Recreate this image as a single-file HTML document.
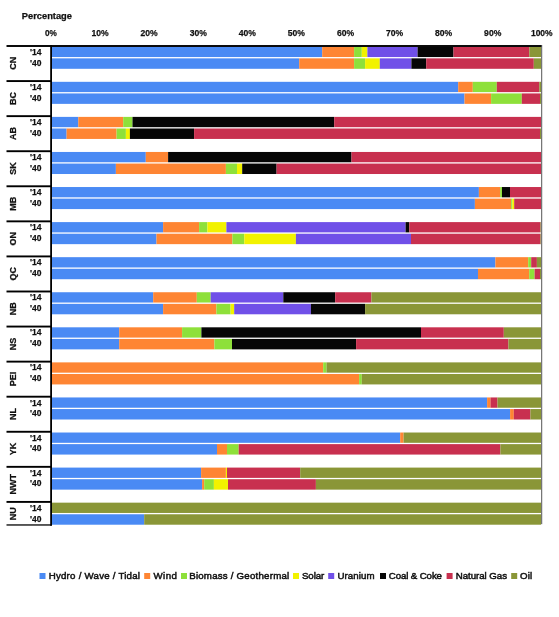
<!DOCTYPE html>
<html><head><meta charset="utf-8"><style>
html,body{margin:0;padding:0;background:#fff;}
body{width:559px;height:617px;overflow:hidden;}
svg{display:block;will-change:transform;}
text{font-family:"Liberation Sans", sans-serif;font-weight:bold;fill:#111;stroke:#111;stroke-width:0.25px;}
</style></head><body>
<svg width="559" height="617" viewBox="0 0 559 617">
<rect x="52.00" y="46.75" width="270.20" height="10.30" fill="#4a8af4"/>
<rect x="322.20" y="46.75" width="31.90" height="10.30" fill="#fe8533"/>
<rect x="354.10" y="46.75" width="7.70" height="10.30" fill="#8ee03a"/>
<rect x="361.80" y="46.75" width="5.60" height="10.30" fill="#f2f200"/>
<rect x="367.40" y="46.75" width="50.20" height="10.30" fill="#7050e8"/>
<rect x="417.60" y="46.75" width="35.90" height="10.30" fill="#060606"/>
<rect x="453.50" y="46.75" width="75.80" height="10.30" fill="#c8304f"/>
<rect x="529.30" y="46.75" width="11.70" height="10.30" fill="#8a9637"/>
<rect x="52.00" y="58.35" width="247.20" height="10.45" fill="#4a8af4"/>
<rect x="299.20" y="58.35" width="54.90" height="10.45" fill="#fe8533"/>
<rect x="354.10" y="58.35" width="11.00" height="10.45" fill="#8ee03a"/>
<rect x="365.10" y="58.35" width="14.70" height="10.45" fill="#f2f200"/>
<rect x="379.80" y="58.35" width="31.60" height="10.45" fill="#7050e8"/>
<rect x="411.40" y="58.35" width="14.80" height="10.45" fill="#060606"/>
<rect x="426.20" y="58.35" width="107.60" height="10.45" fill="#c8304f"/>
<rect x="533.80" y="58.35" width="7.20" height="10.45" fill="#8a9637"/>
<rect x="52.00" y="81.82" width="406.20" height="10.30" fill="#4a8af4"/>
<rect x="458.20" y="81.82" width="14.60" height="10.30" fill="#fe8533"/>
<rect x="472.80" y="81.82" width="24.00" height="10.30" fill="#8ee03a"/>
<rect x="496.80" y="81.82" width="42.50" height="10.30" fill="#c8304f"/>
<rect x="539.30" y="81.82" width="1.70" height="10.30" fill="#8a9637"/>
<rect x="52.00" y="93.42" width="412.50" height="10.45" fill="#4a8af4"/>
<rect x="464.50" y="93.42" width="26.60" height="10.45" fill="#fe8533"/>
<rect x="491.10" y="93.42" width="30.70" height="10.45" fill="#8ee03a"/>
<rect x="521.80" y="93.42" width="18.20" height="10.45" fill="#c8304f"/>
<rect x="540.00" y="93.42" width="1.00" height="10.45" fill="#8a9637"/>
<rect x="52.00" y="116.89" width="26.30" height="10.30" fill="#4a8af4"/>
<rect x="78.30" y="116.89" width="44.90" height="10.30" fill="#fe8533"/>
<rect x="123.20" y="116.89" width="9.30" height="10.30" fill="#8ee03a"/>
<rect x="132.50" y="116.89" width="201.70" height="10.30" fill="#060606"/>
<rect x="334.20" y="116.89" width="206.80" height="10.30" fill="#c8304f"/>
<rect x="52.00" y="128.49" width="14.60" height="10.45" fill="#4a8af4"/>
<rect x="66.60" y="128.49" width="50.00" height="10.45" fill="#fe8533"/>
<rect x="116.60" y="128.49" width="9.30" height="10.45" fill="#8ee03a"/>
<rect x="125.90" y="128.49" width="4.00" height="10.45" fill="#f2f200"/>
<rect x="129.90" y="128.49" width="64.20" height="10.45" fill="#060606"/>
<rect x="194.10" y="128.49" width="345.90" height="10.45" fill="#c8304f"/>
<rect x="540.00" y="128.49" width="1.00" height="10.45" fill="#8a9637"/>
<rect x="52.00" y="151.96" width="93.80" height="10.30" fill="#4a8af4"/>
<rect x="145.80" y="151.96" width="22.30" height="10.30" fill="#fe8533"/>
<rect x="168.10" y="151.96" width="183.40" height="10.30" fill="#060606"/>
<rect x="351.50" y="151.96" width="189.50" height="10.30" fill="#c8304f"/>
<rect x="52.00" y="163.56" width="63.90" height="10.45" fill="#4a8af4"/>
<rect x="115.90" y="163.56" width="110.00" height="10.45" fill="#fe8533"/>
<rect x="225.90" y="163.56" width="11.10" height="10.45" fill="#8ee03a"/>
<rect x="237.00" y="163.56" width="5.20" height="10.45" fill="#f2f200"/>
<rect x="242.20" y="163.56" width="34.40" height="10.45" fill="#060606"/>
<rect x="276.60" y="163.56" width="264.40" height="10.45" fill="#c8304f"/>
<rect x="52.00" y="187.03" width="426.90" height="10.30" fill="#4a8af4"/>
<rect x="478.90" y="187.03" width="21.30" height="10.30" fill="#fe8533"/>
<rect x="500.20" y="187.03" width="1.80" height="10.30" fill="#8ee03a"/>
<rect x="502.00" y="187.03" width="8.00" height="10.30" fill="#060606"/>
<rect x="510.00" y="187.03" width="31.00" height="10.30" fill="#c8304f"/>
<rect x="52.00" y="198.63" width="422.90" height="10.45" fill="#4a8af4"/>
<rect x="474.90" y="198.63" width="36.30" height="10.45" fill="#fe8533"/>
<rect x="511.20" y="198.63" width="1.10" height="10.45" fill="#8ee03a"/>
<rect x="512.30" y="198.63" width="1.90" height="10.45" fill="#f2f200"/>
<rect x="514.20" y="198.63" width="26.80" height="10.45" fill="#c8304f"/>
<rect x="52.00" y="222.10" width="111.10" height="10.30" fill="#4a8af4"/>
<rect x="163.10" y="222.10" width="36.00" height="10.30" fill="#fe8533"/>
<rect x="199.10" y="222.10" width="8.30" height="10.30" fill="#8ee03a"/>
<rect x="207.40" y="222.10" width="19.00" height="10.30" fill="#f2f200"/>
<rect x="226.40" y="222.10" width="179.20" height="10.30" fill="#7050e8"/>
<rect x="405.60" y="222.10" width="3.70" height="10.30" fill="#060606"/>
<rect x="409.30" y="222.10" width="131.20" height="10.30" fill="#c8304f"/>
<rect x="540.50" y="222.10" width="0.50" height="10.30" fill="#8a9637"/>
<rect x="52.00" y="233.70" width="104.50" height="10.45" fill="#4a8af4"/>
<rect x="156.50" y="233.70" width="75.90" height="10.45" fill="#fe8533"/>
<rect x="232.40" y="233.70" width="11.90" height="10.45" fill="#8ee03a"/>
<rect x="244.30" y="233.70" width="51.60" height="10.45" fill="#f2f200"/>
<rect x="295.90" y="233.70" width="115.10" height="10.45" fill="#7050e8"/>
<rect x="411.00" y="233.70" width="129.50" height="10.45" fill="#c8304f"/>
<rect x="540.50" y="233.70" width="0.50" height="10.45" fill="#8a9637"/>
<rect x="52.00" y="257.17" width="443.40" height="10.30" fill="#4a8af4"/>
<rect x="495.40" y="257.17" width="32.80" height="10.30" fill="#fe8533"/>
<rect x="528.20" y="257.17" width="3.00" height="10.30" fill="#8ee03a"/>
<rect x="531.20" y="257.17" width="5.70" height="10.30" fill="#c8304f"/>
<rect x="536.90" y="257.17" width="4.10" height="10.30" fill="#8a9637"/>
<rect x="52.00" y="268.77" width="426.00" height="10.45" fill="#4a8af4"/>
<rect x="478.00" y="268.77" width="51.20" height="10.45" fill="#fe8533"/>
<rect x="529.20" y="268.77" width="5.40" height="10.45" fill="#8ee03a"/>
<rect x="534.60" y="268.77" width="5.40" height="10.45" fill="#c8304f"/>
<rect x="540.00" y="268.77" width="1.00" height="10.45" fill="#8a9637"/>
<rect x="52.00" y="292.24" width="101.20" height="10.30" fill="#4a8af4"/>
<rect x="153.20" y="292.24" width="43.60" height="10.30" fill="#fe8533"/>
<rect x="196.80" y="292.24" width="13.90" height="10.30" fill="#8ee03a"/>
<rect x="210.70" y="292.24" width="72.60" height="10.30" fill="#7050e8"/>
<rect x="283.30" y="292.24" width="51.90" height="10.30" fill="#060606"/>
<rect x="335.20" y="292.24" width="36.20" height="10.30" fill="#c8304f"/>
<rect x="371.40" y="292.24" width="169.60" height="10.30" fill="#8a9637"/>
<rect x="52.00" y="303.84" width="111.10" height="10.45" fill="#4a8af4"/>
<rect x="163.10" y="303.84" width="53.30" height="10.45" fill="#fe8533"/>
<rect x="216.40" y="303.84" width="14.20" height="10.45" fill="#8ee03a"/>
<rect x="230.60" y="303.84" width="3.60" height="10.45" fill="#f2f200"/>
<rect x="234.20" y="303.84" width="76.70" height="10.45" fill="#7050e8"/>
<rect x="310.90" y="303.84" width="54.20" height="10.45" fill="#060606"/>
<rect x="365.10" y="303.84" width="175.90" height="10.45" fill="#8a9637"/>
<rect x="52.00" y="327.31" width="67.20" height="10.30" fill="#4a8af4"/>
<rect x="119.20" y="327.31" width="62.90" height="10.30" fill="#fe8533"/>
<rect x="182.10" y="327.31" width="19.30" height="10.30" fill="#8ee03a"/>
<rect x="201.40" y="327.31" width="219.60" height="10.30" fill="#060606"/>
<rect x="421.00" y="327.31" width="82.80" height="10.30" fill="#c8304f"/>
<rect x="503.80" y="327.31" width="37.20" height="10.30" fill="#8a9637"/>
<rect x="52.00" y="338.91" width="67.20" height="10.45" fill="#4a8af4"/>
<rect x="119.20" y="338.91" width="95.20" height="10.45" fill="#fe8533"/>
<rect x="214.40" y="338.91" width="17.60" height="10.45" fill="#8ee03a"/>
<rect x="232.00" y="338.91" width="124.10" height="10.45" fill="#060606"/>
<rect x="356.10" y="338.91" width="152.30" height="10.45" fill="#c8304f"/>
<rect x="508.40" y="338.91" width="32.60" height="10.45" fill="#8a9637"/>
<rect x="52.00" y="362.38" width="271.20" height="10.30" fill="#fe8533"/>
<rect x="323.20" y="362.38" width="3.30" height="10.30" fill="#8ee03a"/>
<rect x="326.50" y="362.38" width="214.50" height="10.30" fill="#8a9637"/>
<rect x="52.00" y="373.98" width="307.10" height="10.45" fill="#fe8533"/>
<rect x="359.10" y="373.98" width="2.70" height="10.45" fill="#8ee03a"/>
<rect x="361.80" y="373.98" width="179.20" height="10.45" fill="#8a9637"/>
<rect x="52.00" y="397.45" width="435.10" height="10.30" fill="#4a8af4"/>
<rect x="487.10" y="397.45" width="3.40" height="10.30" fill="#fe8533"/>
<rect x="490.50" y="397.45" width="7.00" height="10.30" fill="#c8304f"/>
<rect x="497.50" y="397.45" width="43.50" height="10.30" fill="#8a9637"/>
<rect x="52.00" y="409.05" width="458.10" height="10.45" fill="#4a8af4"/>
<rect x="510.10" y="409.05" width="3.70" height="10.45" fill="#fe8533"/>
<rect x="513.80" y="409.05" width="16.60" height="10.45" fill="#c8304f"/>
<rect x="530.40" y="409.05" width="10.60" height="10.45" fill="#8a9637"/>
<rect x="52.00" y="432.52" width="348.20" height="10.30" fill="#4a8af4"/>
<rect x="400.20" y="432.52" width="3.40" height="10.30" fill="#fe8533"/>
<rect x="403.60" y="432.52" width="137.40" height="10.30" fill="#8a9637"/>
<rect x="52.00" y="444.12" width="165.00" height="10.45" fill="#4a8af4"/>
<rect x="217.00" y="444.12" width="10.00" height="10.45" fill="#fe8533"/>
<rect x="227.00" y="444.12" width="11.70" height="10.45" fill="#8ee03a"/>
<rect x="238.70" y="444.12" width="261.70" height="10.45" fill="#c8304f"/>
<rect x="500.40" y="444.12" width="40.60" height="10.45" fill="#8a9637"/>
<rect x="52.00" y="467.59" width="149.10" height="10.30" fill="#4a8af4"/>
<rect x="201.10" y="467.59" width="24.80" height="10.30" fill="#fe8533"/>
<rect x="225.90" y="467.59" width="1.10" height="10.30" fill="#f2f200"/>
<rect x="227.00" y="467.59" width="73.20" height="10.30" fill="#c8304f"/>
<rect x="300.20" y="467.59" width="240.80" height="10.30" fill="#8a9637"/>
<rect x="52.00" y="479.19" width="150.10" height="10.45" fill="#4a8af4"/>
<rect x="202.10" y="479.19" width="2.10" height="10.45" fill="#fe8533"/>
<rect x="204.20" y="479.19" width="9.70" height="10.45" fill="#8ee03a"/>
<rect x="213.90" y="479.19" width="14.10" height="10.45" fill="#f2f200"/>
<rect x="228.00" y="479.19" width="87.90" height="10.45" fill="#c8304f"/>
<rect x="315.90" y="479.19" width="225.10" height="10.45" fill="#8a9637"/>
<rect x="52.00" y="502.66" width="489.00" height="10.30" fill="#8a9637"/>
<rect x="52.00" y="514.26" width="92.20" height="10.45" fill="#4a8af4"/>
<rect x="144.20" y="514.26" width="396.80" height="10.45" fill="#8a9637"/>
<rect x="6.50" y="45.05" width="535.50" height="1.90" fill="#000"/>
<rect x="6.50" y="80.12" width="45.00" height="1.90" fill="#000"/>
<rect x="6.50" y="115.19" width="45.00" height="1.90" fill="#000"/>
<rect x="6.50" y="150.26" width="45.00" height="1.90" fill="#000"/>
<rect x="6.50" y="185.33" width="45.00" height="1.90" fill="#000"/>
<rect x="6.50" y="220.40" width="45.00" height="1.90" fill="#000"/>
<rect x="6.50" y="255.47" width="45.00" height="1.90" fill="#000"/>
<rect x="6.50" y="290.54" width="45.00" height="1.90" fill="#000"/>
<rect x="6.50" y="325.61" width="45.00" height="1.90" fill="#000"/>
<rect x="6.50" y="360.68" width="45.00" height="1.90" fill="#000"/>
<rect x="6.50" y="395.75" width="45.00" height="1.90" fill="#000"/>
<rect x="6.50" y="430.82" width="45.00" height="1.90" fill="#000"/>
<rect x="6.50" y="465.89" width="45.00" height="1.90" fill="#000"/>
<rect x="6.50" y="500.96" width="45.00" height="1.90" fill="#000"/>
<rect x="6.50" y="524.16" width="45.00" height="1.60" fill="#333"/>
<rect x="50.20" y="45.00" width="1.80" height="480.76" fill="#000"/>
<rect x="541.20" y="45.00" width="1.00" height="479.16" fill="#555"/>
<text x="51.00" y="35.8" font-size="9.6" text-anchor="middle" textLength="11.9" lengthAdjust="spacingAndGlyphs">0%</text>
<text x="100.08" y="35.8" font-size="9.6" text-anchor="middle" textLength="17.2" lengthAdjust="spacingAndGlyphs">10%</text>
<text x="149.16" y="35.8" font-size="9.6" text-anchor="middle" textLength="17.2" lengthAdjust="spacingAndGlyphs">20%</text>
<text x="198.24" y="35.8" font-size="9.6" text-anchor="middle" textLength="17.2" lengthAdjust="spacingAndGlyphs">30%</text>
<text x="247.32" y="35.8" font-size="9.6" text-anchor="middle" textLength="17.2" lengthAdjust="spacingAndGlyphs">40%</text>
<text x="296.40" y="35.8" font-size="9.6" text-anchor="middle" textLength="17.2" lengthAdjust="spacingAndGlyphs">50%</text>
<text x="345.48" y="35.8" font-size="9.6" text-anchor="middle" textLength="17.2" lengthAdjust="spacingAndGlyphs">60%</text>
<text x="394.56" y="35.8" font-size="9.6" text-anchor="middle" textLength="17.2" lengthAdjust="spacingAndGlyphs">70%</text>
<text x="443.64" y="35.8" font-size="9.6" text-anchor="middle" textLength="17.2" lengthAdjust="spacingAndGlyphs">80%</text>
<text x="492.72" y="35.8" font-size="9.6" text-anchor="middle" textLength="17.2" lengthAdjust="spacingAndGlyphs">90%</text>
<text x="541.80" y="35.8" font-size="9.6" text-anchor="middle" textLength="21.7" lengthAdjust="spacingAndGlyphs">100%</text>
<text x="21.8" y="19.3" font-size="9.3" text-anchor="start">Percentage</text>
<text x="30" y="54.849999999999994" font-size="9.4" text-anchor="start" textLength="11.5" lengthAdjust="spacingAndGlyphs">'14</text>
<text x="30" y="65.65" font-size="9.4" text-anchor="start" textLength="11.5" lengthAdjust="spacingAndGlyphs">'40</text>
<text x="0" y="0" font-size="9" text-anchor="middle" transform="translate(15.6 63.35) rotate(-90)">CN</text>
<text x="30" y="89.92" font-size="9.4" text-anchor="start" textLength="11.5" lengthAdjust="spacingAndGlyphs">'14</text>
<text x="30" y="100.72" font-size="9.4" text-anchor="start" textLength="11.5" lengthAdjust="spacingAndGlyphs">'40</text>
<text x="0" y="0" font-size="9" text-anchor="middle" transform="translate(15.6 98.42) rotate(-90)">BC</text>
<text x="30" y="124.99" font-size="9.4" text-anchor="start" textLength="11.5" lengthAdjust="spacingAndGlyphs">'14</text>
<text x="30" y="135.79" font-size="9.4" text-anchor="start" textLength="11.5" lengthAdjust="spacingAndGlyphs">'40</text>
<text x="0" y="0" font-size="9" text-anchor="middle" transform="translate(15.6 133.49) rotate(-90)">AB</text>
<text x="30" y="160.06" font-size="9.4" text-anchor="start" textLength="11.5" lengthAdjust="spacingAndGlyphs">'14</text>
<text x="30" y="170.85999999999999" font-size="9.4" text-anchor="start" textLength="11.5" lengthAdjust="spacingAndGlyphs">'40</text>
<text x="0" y="0" font-size="9" text-anchor="middle" transform="translate(15.6 168.56) rotate(-90)">SK</text>
<text x="30" y="195.13" font-size="9.4" text-anchor="start" textLength="11.5" lengthAdjust="spacingAndGlyphs">'14</text>
<text x="30" y="205.92999999999998" font-size="9.4" text-anchor="start" textLength="11.5" lengthAdjust="spacingAndGlyphs">'40</text>
<text x="0" y="0" font-size="9" text-anchor="middle" transform="translate(15.6 203.63) rotate(-90)">MB</text>
<text x="30" y="230.2" font-size="9.4" text-anchor="start" textLength="11.5" lengthAdjust="spacingAndGlyphs">'14</text>
<text x="30" y="240.99999999999997" font-size="9.4" text-anchor="start" textLength="11.5" lengthAdjust="spacingAndGlyphs">'40</text>
<text x="0" y="0" font-size="9" text-anchor="middle" transform="translate(15.6 238.70) rotate(-90)">ON</text>
<text x="30" y="265.27000000000004" font-size="9.4" text-anchor="start" textLength="11.5" lengthAdjust="spacingAndGlyphs">'14</text>
<text x="30" y="276.07000000000005" font-size="9.4" text-anchor="start" textLength="11.5" lengthAdjust="spacingAndGlyphs">'40</text>
<text x="0" y="0" font-size="9" text-anchor="middle" transform="translate(15.6 273.77) rotate(-90)">QC</text>
<text x="30" y="300.34000000000003" font-size="9.4" text-anchor="start" textLength="11.5" lengthAdjust="spacingAndGlyphs">'14</text>
<text x="30" y="311.14000000000004" font-size="9.4" text-anchor="start" textLength="11.5" lengthAdjust="spacingAndGlyphs">'40</text>
<text x="0" y="0" font-size="9" text-anchor="middle" transform="translate(15.6 308.84) rotate(-90)">NB</text>
<text x="30" y="335.41" font-size="9.4" text-anchor="start" textLength="11.5" lengthAdjust="spacingAndGlyphs">'14</text>
<text x="30" y="346.21000000000004" font-size="9.4" text-anchor="start" textLength="11.5" lengthAdjust="spacingAndGlyphs">'40</text>
<text x="0" y="0" font-size="9" text-anchor="middle" transform="translate(15.6 343.91) rotate(-90)">NS</text>
<text x="30" y="370.48" font-size="9.4" text-anchor="start" textLength="11.5" lengthAdjust="spacingAndGlyphs">'14</text>
<text x="30" y="381.28000000000003" font-size="9.4" text-anchor="start" textLength="11.5" lengthAdjust="spacingAndGlyphs">'40</text>
<text x="0" y="0" font-size="9" text-anchor="middle" transform="translate(15.6 378.98) rotate(-90)">PEI</text>
<text x="30" y="405.55" font-size="9.4" text-anchor="start" textLength="11.5" lengthAdjust="spacingAndGlyphs">'14</text>
<text x="30" y="416.35" font-size="9.4" text-anchor="start" textLength="11.5" lengthAdjust="spacingAndGlyphs">'40</text>
<text x="0" y="0" font-size="9" text-anchor="middle" transform="translate(15.6 414.05) rotate(-90)">NL</text>
<text x="30" y="440.62" font-size="9.4" text-anchor="start" textLength="11.5" lengthAdjust="spacingAndGlyphs">'14</text>
<text x="30" y="451.42" font-size="9.4" text-anchor="start" textLength="11.5" lengthAdjust="spacingAndGlyphs">'40</text>
<text x="0" y="0" font-size="9" text-anchor="middle" transform="translate(15.6 449.12) rotate(-90)">YK</text>
<text x="30" y="475.69000000000005" font-size="9.4" text-anchor="start" textLength="11.5" lengthAdjust="spacingAndGlyphs">'14</text>
<text x="30" y="486.49000000000007" font-size="9.4" text-anchor="start" textLength="11.5" lengthAdjust="spacingAndGlyphs">'40</text>
<text x="0" y="0" font-size="9" text-anchor="middle" transform="translate(15.6 484.19) rotate(-90)">NWT</text>
<text x="30" y="510.76000000000005" font-size="9.4" text-anchor="start" textLength="11.5" lengthAdjust="spacingAndGlyphs">'14</text>
<text x="30" y="521.5600000000001" font-size="9.4" text-anchor="start" textLength="11.5" lengthAdjust="spacingAndGlyphs">'40</text>
<text x="0" y="0" font-size="9" text-anchor="middle" transform="translate(15.6 513.76) rotate(-90)">NU</text>
<rect x="39.50" y="573.00" width="6.00" height="6.00" fill="#4a8af4"/>
<text x="48.7" y="579" font-size="9.7" text-anchor="start" textLength="91.3" lengthAdjust="spacing" style="font-weight:normal;stroke-width:0.5px">Hydro / Wave / Tidal</text>
<rect x="144.20" y="573.00" width="6.00" height="6.00" fill="#fe8533"/>
<text x="153.4" y="579" font-size="9.7" text-anchor="start" textLength="23.6" lengthAdjust="spacing" style="font-weight:normal;stroke-width:0.5px">Wind</text>
<rect x="181.00" y="573.00" width="6.00" height="6.00" fill="#8ee03a"/>
<text x="189.2" y="579" font-size="9.7" text-anchor="start" textLength="100.0" lengthAdjust="spacing" style="font-weight:normal;stroke-width:0.5px">Biomass / Geothermal</text>
<rect x="293.00" y="573.00" width="6.00" height="6.00" fill="#f2f200"/>
<text x="302" y="579" font-size="9.7" text-anchor="start" textLength="22.2" lengthAdjust="spacing" style="font-weight:normal;stroke-width:0.5px">Solar</text>
<rect x="328.20" y="573.00" width="6.00" height="6.00" fill="#7050e8"/>
<text x="337.4" y="579" font-size="9.7" text-anchor="start" textLength="37.2" lengthAdjust="spacing" style="font-weight:normal;stroke-width:0.5px">Uranium</text>
<rect x="380.00" y="573.00" width="6.00" height="6.00" fill="#060606"/>
<text x="388.8" y="579" font-size="9.7" text-anchor="start" textLength="53.2" lengthAdjust="spacing" style="font-weight:normal;stroke-width:0.5px">Coal &amp; Coke</text>
<rect x="446.60" y="573.00" width="6.00" height="6.00" fill="#c8304f"/>
<text x="455.8" y="579" font-size="9.7" text-anchor="start" textLength="51.2" lengthAdjust="spacing" style="font-weight:normal;stroke-width:0.5px">Natural Gas</text>
<rect x="511.20" y="573.00" width="6.00" height="6.00" fill="#8a9637"/>
<text x="520" y="579" font-size="9.7" text-anchor="start" textLength="12.2" lengthAdjust="spacing" style="font-weight:normal;stroke-width:0.5px">Oil</text>
</svg>
</body></html>
